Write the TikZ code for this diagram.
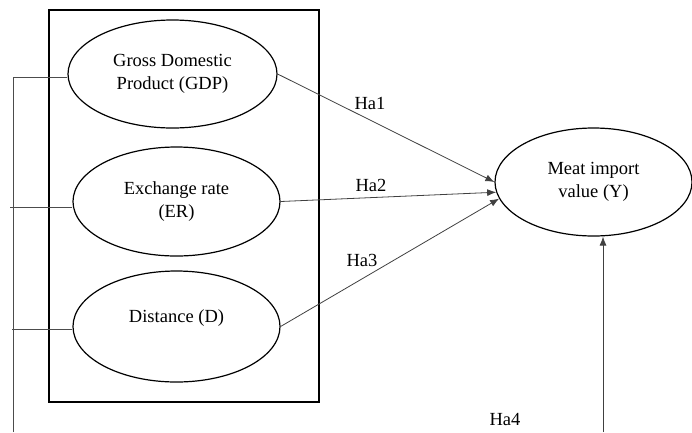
\documentclass[tikz,border=0pt]{standalone}
\usepackage{fontspec}
\setmainfont{Liberation Serif}
\usetikzlibrary{shapes.geometric,arrows.meta}
\begin{document}
\begin{tikzpicture}[x=1pt,y=-1pt,
  every node/.style={font=\fontsize{18.5pt}{23.5pt}\selectfont},
  ell/.style={draw=black,line width=1.2pt,ellipse,inner sep=0pt,align=center},
  frame/.style={draw=black,line width=1.4pt,rectangle,inner sep=0pt},
  arr/.style={draw=black!75,line width=0.8pt,-{Latex[length=9pt,width=7pt]}},
  feed/.style={draw=black!70,line width=0.9pt},
  lbl/.style={inner sep=0pt}]
\useasboundingbox (0,0) rectangle (692,432);
\node[frame,minimum width=270pt,minimum height=392pt] (box) at (184,206) {};
\node[ell,minimum width=209pt,minimum height=108pt] (gdp) at (172.5,74) {Gross Domestic\\Product (GDP)};
\node[ell,minimum width=207pt,minimum height=109pt] (er) at (176.5,201.5) {Exchange rate\\(ER)};
\node[ell,minimum width=207pt,minimum height=111pt] (d) at (176.5,326.5) {};
\node[lbl] (dtext) at (176.5,318) {Distance (D)};
\node[ell,minimum width=197pt,minimum height=108pt] (y) at (593.5,182) {Meat import\\value (Y)};
% left connectors
\coordinate (c1) at (13,77);
\coordinate (c2) at (10,207);
\coordinate (c3) at (12,329);
\coordinate (cb) at (13,432);
\draw[feed] (cb) -- (c1) -- (c1 -| gdp.west);
\draw[feed] (c2) -- (c2 -| er.west);
\draw[feed] (c3) -- (c3 -| d.west);
% arrows
\draw[arr] (gdp.east) -- (y.180);
\draw[arr] (er.east) -- (y.186.5);
\draw[arr] (d.east) -- (y.190);
\coordinate (h4) at (603,432);
\draw[arr] (h4) -- (h4 |- y.south);
% labels
\node[lbl] (l1) at (370,103) {Ha1};
\node[lbl] (l2) at (371,185) {Ha2};
\node[lbl] (l3) at (362,260) {Ha3};
\node[lbl] (l4) at (505,419) {Ha4};
\end{tikzpicture}
\end{document}
